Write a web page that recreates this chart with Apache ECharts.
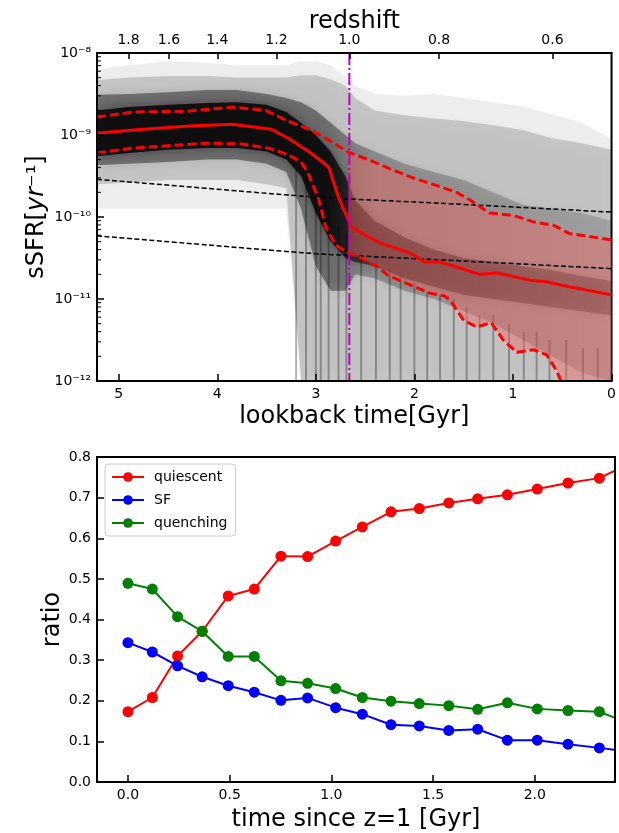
<!DOCTYPE html>
<html>
<head>
<meta charset="utf-8">
<script src="https://cdn.jsdelivr.net/npm/echarts@6/dist/echarts.min.js"></script>
<style>
  html, body { margin: 0; padding: 0; background: #fff; }
  #chart { width: 619px; height: 833px; }
</style>
</head>
<body>
<div id="chart"></div>
<script>
// ---- top panel: lookback time [Gyr] vs log10 sSFR ----
const quenchTime = 2.66; // z = 1

const medianT   = [5.22, 4.85, 4.28, 3.85, 3.51, 3.45, 3.28, 3.05, 2.87, 2.77, 2.64, 2.47, 2.34, 2.04, 1.90, 1.74, 1.57, 1.34, 1.17, 0.83, 0.66, 0.43, 0];
const medianLog = [-8.98, -8.94, -8.89, -8.87, -8.92, -8.93, -9.04, -9.22, -9.39, -9.76, -10.12, -10.24, -10.32, -10.44, -10.55, -10.55, -10.61, -10.70, -10.68, -10.77, -10.79, -10.85, -10.95];

const upperT   = [5.22, 4.85, 4.31, 3.85, 3.51, 3.30, 3.05, 2.87, 2.67, 2.47, 2.27, 2.00, 1.84, 1.57, 1.44, 1.24, 1.00, 0.79, 0.59, 0.43, 0];
const upperLog = [-8.78, -8.72, -8.71, -8.66, -8.70, -8.82, -8.94, -9.06, -9.21, -9.30, -9.40, -9.53, -9.59, -9.70, -9.79, -9.95, -9.98, -10.06, -10.10, -10.20, -10.28];

const lowerT   = [5.22, 4.85, 4.11, 3.75, 3.48, 3.28, 3.15, 3.08, 2.97, 2.90, 2.80, 2.67, 2.54, 2.37, 2.27, 2.00, 1.84, 1.70, 1.64, 1.50, 1.37, 1.22, 1.10, 0.96, 0.79, 0.66, 0.56, 0.51, 0.40, 0.20, 0];
const lowerLog = [-9.22, -9.16, -9.10, -9.11, -9.16, -9.24, -9.33, -9.46, -9.79, -10.12, -10.34, -10.44, -10.50, -10.61, -10.71, -10.85, -10.93, -10.96, -11.01, -11.26, -11.34, -11.29, -11.50, -11.65, -11.62, -11.68, -11.87, -12.01, -12.4, -12.6, -12.7];

// main-sequence thresholds (black dashed)
const thrT       = [5.22, 4.31, 3.41, 2.97, 2.66, 1.77, 0];
const thrHighLog = [-9.54, -9.63, -9.72, -9.76, -9.78, -9.83, -9.94];
const thrLowLog  = [-10.23, -10.32, -10.41, -10.45, -10.47, -10.52, -10.63];

// envelopes of the grey cloud of individual histories
const bandT     = [5.22, 4.9, 4.5, 4.1, 3.8, 3.5, 3.3, 3.15, 3.0, 2.85, 2.7, 2.6, 2.4, 2.1, 1.8, 1.5, 1.2, 0.9, 0.6, 0.3, 0];
const faintTop  = [-8.2, -8.15, -8.1, -8.12, -8.15, -8.15, -8.15, -8.1, -8.1, -8.15, -8.3, -8.4, -8.5, -8.52, -8.5, -8.55, -8.6, -8.65, -8.75, -8.85, -9.05];
const faintBot  = [-9.9, -9.9, -9.9, -9.9, -9.9, -9.9, -9.9, -12, -12, -12, -12, -12, -12, -12, -12, -12, -12, -12, -12, -12, -12];
const wideTop   = [-8.33, -8.3, -8.28, -8.28, -8.3, -8.3, -8.3, -8.27, -8.27, -8.32, -8.4, -8.55, -8.7, -8.76, -8.8, -8.83, -8.88, -8.94, -9.04, -9.1, -9.18];
const wideBot   = [-9.6, -9.58, -9.55, -9.55, -9.55, -9.6, -9.65, -12, -12, -12, -12, -12, -12, -12, -12, -12, -12, -12, -12, -12, -12];
const denseTop  = [-8.51, -8.5, -8.48, -8.45, -8.45, -8.5, -8.55, -8.6, -8.7, -8.85, -9.0, -9.1, -9.2, -9.35, -9.45, -9.55, -9.7, -9.85, -9.9, -9.95, -10.05];
const denseBot  = [-9.37, -9.35, -9.33, -9.3, -9.3, -9.35, -9.45, -9.9, -10.6, -10.9, -10.9, -10.7, -10.75, -10.9, -11.0, -11.15, -11.3, -11.5, -11.7, -11.9, -12];
const coreTop   = [-8.7, -8.66, -8.63, -8.61, -8.6, -8.63, -8.72, -8.85, -9.0, -9.2, -9.5, -9.8, -10.05, -10.25, -10.4, -10.5, -10.55, -10.6, -10.65, -10.72, -10.78];
const coreBot   = [-9.26, -9.22, -9.18, -9.16, -9.16, -9.2, -9.3, -9.5, -9.95, -10.3, -10.5, -10.55, -10.6, -10.75, -10.85, -10.95, -11.0, -11.05, -11.1, -11.15, -11.2];

// vertical streaks of histories dropping to zero SFR
const streakT   = [3.2, 3.1, 3.0, 2.95, 2.87, 2.77, 2.69, 2.54, 2.39, 2.25, 2.14, 2.0, 1.87, 1.74, 1.60, 1.47, 1.34, 1.20, 1.04, 0.89, 0.76, 0.63, 0.46, 0.29, 0.14];
const streakTop = [-9.4, -9.5, -9.6, -9.8, -9.9, -10.1, -10.2, -10.4, -10.5, -10.6, -10.7, -10.8, -10.9, -10.95, -11.0, -11.1, -11.2, -11.2, -11.3, -11.4, -11.4, -11.5, -11.5, -11.6, -11.6];

// redshift ticks on the top axis
const redshiftLabels = ['1.8', '1.6', '1.4', '1.2', '1.0', '0.8', '0.6'];
const redshiftT      = [4.90, 4.49, 4.00, 3.40, 2.66, 1.75, 0.60];

// ---- bottom panel: ratios vs time since z=1 [Gyr] ----
const timeSinceZ1 = [0.0, 0.12, 0.244, 0.365, 0.493, 0.621, 0.752, 0.883, 1.021, 1.152, 1.293, 1.432, 1.577, 1.719, 1.865, 2.012, 2.163, 2.317, 2.47];
const quiescent   = [0.173, 0.208, 0.310, 0.371, 0.458, 0.475, 0.556, 0.555, 0.593, 0.628, 0.665, 0.673, 0.687, 0.697, 0.707, 0.721, 0.736, 0.748, 0.785];
const starForming = [0.343, 0.320, 0.286, 0.259, 0.237, 0.221, 0.201, 0.207, 0.183, 0.167, 0.141, 0.138, 0.127, 0.130, 0.103, 0.103, 0.093, 0.084, 0.074];
const quenching   = [0.489, 0.475, 0.407, 0.371, 0.309, 0.309, 0.249, 0.243, 0.230, 0.208, 0.199, 0.193, 0.188, 0.179, 0.195, 0.180, 0.176, 0.173, 0.143];

const FONT = 'DejaVu Sans';
const T_MAX = 5.22;
const SUP = { '-': '⁻', '0': '⁰', '1': '¹', '2': '²', '3': '³', '4': '⁴', '5': '⁵', '6': '⁶', '7': '⁷', '8': '⁸', '9': '⁹' };
const supStr = (s) => String(s).split('').map((c) => SUP[c] || c).join('');

const pts = (ts, logs) => ts.map((t, i) => [t, Math.pow(10, logs[i])]);
const clampPow = (v) => Math.pow(10, Math.max(v, -12));

// minor tick positions of the log axis (2..9 x 10^n)
const minorLog = [];
for (let e = -12; e < -8; e++) {
  for (let k = 2; k <= 9; k++) minorLog.push(k * Math.pow(10, e));
}

// horizontal fade, stops given as [lookback time, alpha]
function fade(stops) {
  return new echarts.graphic.LinearGradient(0, 0, 1, 0,
    stops.map(([t, a]) => ({ offset: (T_MAX - t) / T_MAX, color: 'rgba(0,0,0,' + a + ')' })));
}

function bandSeries(top, bot, fill, blur, blurColor) {
  return {
    type: 'custom', xAxisIndex: 0, yAxisIndex: 0, silent: true, z: 1, clip: true,
    data: [[quenchTime, 1e-10]],
    renderItem: (params, api) => {
      const up = bandT.map((t, i) => api.coord([t, clampPow(top[i])]));
      const lo = bandT.map((t, i) => api.coord([t, clampPow(bot[i])])).reverse();
      return {
        type: 'polygon', shape: { points: up.concat(lo) },
        style: { fill: fill, shadowBlur: blur, shadowColor: blurColor }
      };
    }
  };
}

function pinkSeries() {
  return {
    type: 'custom', xAxisIndex: 0, yAxisIndex: 0, silent: true, z: 3, clip: true,
    data: [[quenchTime, 1e-10]],
    renderItem: (params, api) => {
      const up = [];
      upperT.forEach((t, i) => { if (t <= 2.67) up.push(api.coord([t, clampPow(upperLog[i])])); });
      const lo = [];
      lowerT.forEach((t, i) => { if (t <= 2.67) lo.push(api.coord([t, clampPow(lowerLog[i])])); });
      return { type: 'polygon', shape: { points: up.concat(lo.reverse()) }, style: { fill: 'rgba(240,100,100,0.45)' } };
    }
  };
}

const axisBase = (extra) => Object.assign({
  axisLine: { show: true, onZero: false, lineStyle: { color: '#000', width: 2 } },
  axisTick: { show: true, inside: true, length: 7, lineStyle: { color: '#000', width: 1.5 } },
  axisLabel: { color: '#000', fontSize: 14, fontFamily: FONT, margin: 6 },
  splitLine: { show: false },
  nameMoveOverlap: false,
  nameTextStyle: { color: '#000', fontSize: 24, fontFamily: FONT },
  z: 20
}, extra);

const lineOnly = (extra) => Object.assign({
  axisLine: { show: true, onZero: false, lineStyle: { color: '#000', width: 2 } },
  axisTick: { show: false }, axisLabel: { show: false }, splitLine: { show: false }, z: 20
}, extra);

const chart = echarts.init(document.getElementById('chart'), null, { renderer: 'canvas' });

const ratioSeries = (name, data, color) => ({
  name: name, type: 'line', xAxisIndex: 2, yAxisIndex: 1,
  data: timeSinceZ1.map((t, i) => [t, data[i]]),
  symbol: 'circle', symbolSize: 11, showSymbol: true,
  lineStyle: { color: color, width: 2 }, itemStyle: { color: color }
});

chart.setOption({
  animation: false,
  textStyle: { fontFamily: FONT },
  grid: [
    { left: 97, top: 53, width: 519, height: 328, show: true, borderColor: '#000', borderWidth: 2, backgroundColor: 'transparent' },
    { left: 97, top: 457, width: 518, height: 327 }
  ],
  legend: {
    data: ['quiescent', 'SF', 'quenching'],
    orient: 'vertical', left: 105, top: 464,
    itemWidth: 32, itemHeight: 12, itemGap: 9,
    textStyle: { fontSize: 14, color: '#000', fontFamily: FONT, padding: [0, 0, 0, 5] },
    borderColor: '#cccccc', borderWidth: 1, borderRadius: 4,
    padding: [6, 8, 6, 6], backgroundColor: 'rgba(255,255,255,0.8)'
  },
  xAxis: [
    axisBase({
      gridIndex: 0, type: 'value', position: 'bottom', min: 0, max: T_MAX, inverse: true,
      name: 'lookback time[Gyr]', nameLocation: 'middle', nameGap: 24,
      axisTick: { inside: true, length: 7, lineStyle: { color: '#000', width: 1.5 }, customValues: [0, 1, 2, 3, 4, 5] },
      axisLabel: { color: '#000', fontSize: 14, fontFamily: FONT, margin: 6, customValues: [0, 1, 2, 3, 4, 5], formatter: (v) => String(Math.round(v)) }
    }),
    axisBase({
      gridIndex: 0, type: 'value', position: 'top', min: 0, max: T_MAX, inverse: true,
      name: 'redshift', nameLocation: 'middle', nameGap: 19,
      axisTick: { inside: true, length: 6, lineStyle: { color: '#000', width: 1.5 }, customValues: redshiftT },
      axisLabel: {
        color: '#000', fontSize: 14, fontFamily: FONT, margin: 6, customValues: redshiftT,
        formatter: (v) => {
          let best = 0;
          redshiftT.forEach((t, i) => { if (Math.abs(t - v) < Math.abs(redshiftT[best] - v)) best = i; });
          return redshiftLabels[best];
        }
      }
    }),
    axisBase({
      gridIndex: 1, type: 'value', position: 'bottom', min: -0.152, max: 2.394,
      name: 'time since z=1 [Gyr]', nameLocation: 'middle', nameGap: 26,
      axisTick: { inside: true, length: 7, lineStyle: { color: '#000', width: 1.5 }, customValues: [0, 0.5, 1, 1.5, 2] },
      axisLabel: { color: '#000', fontSize: 14, fontFamily: FONT, margin: 6, customValues: [0, 0.5, 1, 1.5, 2], formatter: (v) => v.toFixed(1) }
    }),
    lineOnly({ gridIndex: 1, type: 'value', position: 'top', min: -0.152, max: 2.394 })
  ],
  yAxis: [
    axisBase({
      gridIndex: 0, type: 'log', logBase: 10, min: 1e-12, max: 1e-8, position: 'left',
      name: '{n|sSFR[}{i|yr}{n|⁻¹]}', nameLocation: 'middle', nameGap: 48,
      nameTextStyle: {
        color: '#000', fontSize: 24, fontFamily: FONT,
        rich: { n: { fontSize: 24, fontFamily: FONT, color: '#000' }, i: { fontSize: 24, fontFamily: FONT, fontStyle: 'italic', color: '#000' } }
      },
      axisLabel: { color: '#000', fontSize: 14, fontFamily: FONT, margin: 6, formatter: (v) => '10' + supStr(Math.round(Math.log10(v))) }
    }),
    axisBase({
      gridIndex: 1, type: 'value', min: 0, max: 0.8, interval: 0.1, position: 'left',
      name: 'ratio', nameLocation: 'middle', nameGap: 32,
      axisLabel: { color: '#000', fontSize: 14, fontFamily: FONT, margin: 6, formatter: (v) => v.toFixed(1) }
    }),
    lineOnly({ gridIndex: 1, type: 'value', min: 0, max: 0.8, position: 'right' })
  ],
  series: [
    bandSeries(faintTop, faintBot, 'rgba(0,0,0,0.07)', 6, 'rgba(0,0,0,0.07)'),
    bandSeries(wideTop, wideBot, 'rgba(0,0,0,0.16)', 8, 'rgba(0,0,0,0.16)'),
    bandSeries(denseTop, denseBot, fade([[T_MAX, 0.4], [2.9, 0.4], [2.4, 0.25], [0, 0.15]]), 8, 'rgba(0,0,0,0.25)'),
    bandSeries(coreTop, coreBot, fade([[T_MAX, 0.8], [2.9, 0.8], [2.5, 0.5], [0, 0.3]]), 8, 'rgba(0,0,0,0.4)'),
    {
      type: 'custom', xAxisIndex: 0, yAxisIndex: 0, silent: true, z: 2, clip: true,
      data: streakT.map((t, i) => [t, Math.pow(10, streakTop[i])]),
      renderItem: (params, api) => {
        const a = api.coord([api.value(0), api.value(1)]);
        const b = api.coord([api.value(0), 1e-12]);
        return { type: 'line', shape: { x1: a[0], y1: a[1], x2: b[0], y2: b[1] }, style: { stroke: 'rgba(0,0,0,0.3)', lineWidth: 2 } };
      }
    },
    pinkSeries(),
    {
      type: 'line', xAxisIndex: 0, yAxisIndex: 0, z: 4, showSymbol: false, silent: true,
      data: pts(thrT, thrHighLog), lineStyle: { color: '#000', width: 1.5, type: [5, 2.5] }
    },
    {
      type: 'line', xAxisIndex: 0, yAxisIndex: 0, z: 4, showSymbol: false, silent: true,
      data: pts(thrT, thrLowLog), lineStyle: { color: '#000', width: 1.5, type: [5, 2.5] }
    },
    {
      type: 'line', xAxisIndex: 0, yAxisIndex: 0, z: 5, showSymbol: false, silent: true,
      data: pts(upperT, upperLog), lineStyle: { color: '#ff0000', width: 3, type: [9, 4] }
    },
    {
      type: 'line', xAxisIndex: 0, yAxisIndex: 0, z: 5, showSymbol: false, silent: true,
      data: pts(lowerT, lowerLog), lineStyle: { color: '#ff0000', width: 3, type: [9, 4] }
    },
    {
      type: 'line', xAxisIndex: 0, yAxisIndex: 0, z: 5, showSymbol: false, silent: true,
      data: pts(medianT, medianLog), lineStyle: { color: '#ff0000', width: 3 }
    },
    {
      type: 'line', xAxisIndex: 0, yAxisIndex: 0, z: 6, showSymbol: false, silent: true,
      data: [[quenchTime, 1e-8], [quenchTime, 1e-12]],
      lineStyle: { color: '#bf00bf', width: 2, type: [12, 3, 2, 3] }
    },
    {
      // minor ticks on the left spine of the log axis
      type: 'custom', xAxisIndex: 0, yAxisIndex: 0, silent: true, z: 10, clip: false,
      data: minorLog.map((v) => [T_MAX, v]),
      renderItem: (params, api) => {
        const c = api.coord([api.value(0), api.value(1)]);
        return { type: 'line', shape: { x1: c[0], y1: c[1], x2: c[0] + 4, y2: c[1] }, style: { stroke: '#000', lineWidth: 1 } };
      }
    },
    ratioSeries('quiescent', quiescent, '#ff0000'),
    ratioSeries('SF', starForming, '#0000ff'),
    ratioSeries('quenching', quenching, '#008000')
  ]
});
</script>
</body>
</html>
